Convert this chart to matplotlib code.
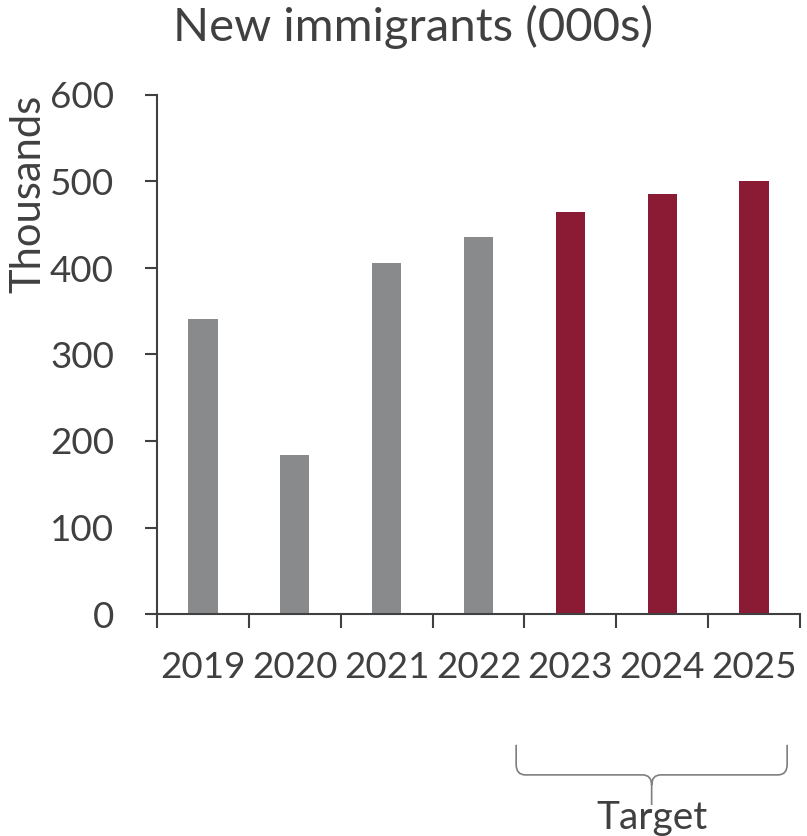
import numpy as np
import matplotlib
matplotlib.use("Agg")
from matplotlib import pyplot as plt
from matplotlib.path import Path
from matplotlib.patches import PathPatch
from matplotlib.transforms import blended_transform_factory

plt.rcParams['font.family'] = ['Lato', 'DejaVu Sans']

# data
years = ["2019", "2020", "2021", "2022", "2023", "2024", "2025"]
immigrants = [341, 184, 406, 436, 465, 485, 500]
is_target = [False, False, False, False, True, True, True]

grey = "#898a8c"
red = "#8b1a35"
txt = "#404040"

fig = plt.figure(figsize=(8.07, 8.36), dpi=100)
ax = fig.add_axes([157/807, 1 - 614/836, (800 - 157)/807, (614 - 95)/836])

x = np.arange(len(years))
colors = [red if t else grey for t in is_target]
ax.bar(x, immigrants, width=0.32, color=colors)

ax.set_xlim(-0.5, len(years) - 0.5)
ax.set_ylim(0, 600)
ax.set_yticks(range(0, 601, 100))

# ticks at category boundaries, labels at centres
ax.set_xticks(np.arange(-0.5, len(years), 1))
ax.set_xticklabels([])
ax.set_xticks(x, minor=True)
ax.set_xticklabels(years, minor=True)
ax.tick_params(axis="x", which="minor", length=0, pad=27, labelsize=26.5, labelcolor=txt)
ax.tick_params(axis="x", which="major", length=10, width=1.5, color=txt, direction="out")
ax.tick_params(axis="y", length=9, width=1.5, color=txt, pad=22, labelsize=26.5, labelcolor=txt)

for s in ["top", "right"]:
    ax.spines[s].set_visible(False)
for s in ["left", "bottom"]:
    ax.spines[s].set_color(txt)
    ax.spines[s].set_linewidth(1.5)

ax.set_ylabel("Thousands", fontsize=30, color=txt, loc="top", labelpad=2)
fig.text(413/807, 1 - 27/836, "New immigrants (000s)", fontsize=34, color=txt,
         ha="center", va="center")

# brace under the target years
trans = blended_transform_factory(ax.transData, ax.transAxes)
x0, x1 = 3.41, 6.36
xm = (x0 + x1) / 2
ytop, ybar, ytip = -0.252, -0.31, -0.368
rx, ry = 0.1, 0.02
verts = [(x0, ytop), (x0, ybar + ry), (x0, ybar), (x0 + rx, ybar),
         (xm - rx, ybar), (xm, ybar), (xm, ybar - ry), (xm, ytip),
         (xm, ybar - ry), (xm, ybar), (xm + rx, ybar),
         (x1 - rx, ybar), (x1, ybar), (x1, ybar + ry), (x1, ytop)]
codes = [Path.MOVETO, Path.LINETO, Path.CURVE3, Path.CURVE3,
         Path.LINETO, Path.CURVE3, Path.CURVE3, Path.LINETO,
         Path.MOVETO, Path.CURVE3, Path.CURVE3,
         Path.LINETO, Path.CURVE3, Path.CURVE3, Path.LINETO]
brace = PathPatch(Path(verts, codes), transform=trans, fill=False,
                  edgecolor="#7f7f7f", linewidth=1.2, clip_on=False)
ax.add_patch(brace)
ax.text(xm, -0.393, "Target", transform=trans, fontsize=28, color=txt,
        ha="center", va="center")

fig.savefig("out.png", dpi=100)
